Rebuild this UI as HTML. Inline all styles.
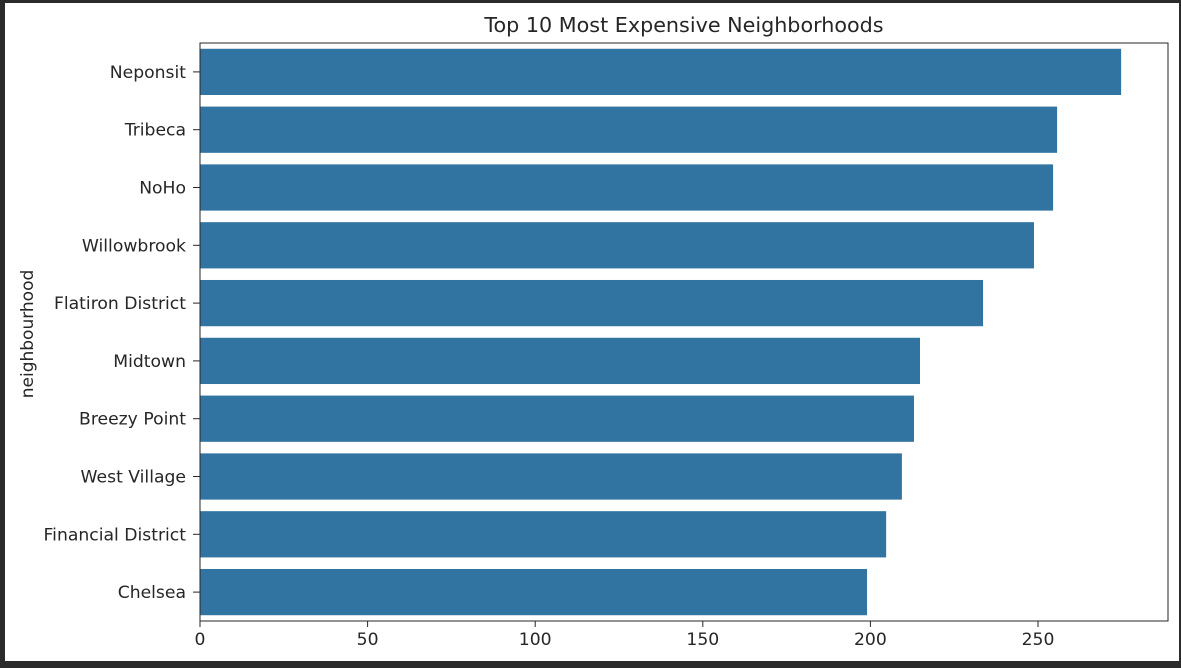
<!DOCTYPE html>
<html><head><meta charset="utf-8"><style>
html,body{margin:0;padding:0;background:#2b2b2b;}
svg{display:block;}
text{font-family:"DejaVu Sans","Liberation Sans",sans-serif;fill:#262626;}
</style></head><body>
<svg id="chart" width="1181" height="668" viewBox="0 0 1181 668" xmlns="http://www.w3.org/2000/svg">
<rect x="5" y="3" width="1174" height="658" fill="#ffffff"/>
<text x="684" y="32" font-size="20.7" text-anchor="middle">Top 10 Most Expensive Neighborhoods</text>
<text transform="translate(33,334) rotate(-90)" font-size="17" text-anchor="middle">neighbourhood</text>
<g id="bars"></g>
<g id="yticks"></g>
<g id="xticks"></g>
<rect x="200" y="43" width="968" height="578" fill="none" stroke="#262626" stroke-width="1"/>
</svg>
<script>
const categories = ["Neponsit","Tribeca","NoHo","Willowbrook","Flatiron District","Midtown","Breezy Point","West Village","Financial District","Chelsea"];
const prices = [274.8,255.7,254.5,248.8,233.6,214.8,213.0,209.4,204.7,199.0];
const xTicks = [0,50,100,150,200,250];
const NS="http://www.w3.org/2000/svg";
const x0=200, pxPer=3.352, yTop=43, yBottom=621;
const band=(yBottom-yTop)/categories.length;
const xs=v=>x0+v*pxPer;
const yc=i=>yTop+band*(i+0.5);
const gb=document.getElementById('bars'), gy=document.getElementById('yticks'), gx=document.getElementById('xticks');
function mk(tag,attrs){const e=document.createElementNS(NS,tag);for(const k in attrs)e.setAttribute(k,attrs[k]);return e;}
categories.forEach((c,i)=>{
  const h=band*0.8;
  const r=mk('rect',{x:xs(0),y:yc(i)-h/2,width:xs(prices[i])-xs(0),height:h,fill:'#3274a1'});
  
  
  gb.appendChild(r);
  const t=mk('line',{x1:193,x2:200,y1:yc(i),y2:yc(i),stroke:'#262626'});
  
  
  gy.appendChild(t);
  const l=mk('text',{x:186,y:yc(i)+6,'font-size':17.2,'text-anchor':'end'});
  l.textContent=c;
  
  
  gy.appendChild(l);
});
xTicks.forEach(v=>{
  const t=mk('line',{x1:xs(v),x2:xs(v),y1:yBottom,y2:yBottom+6,stroke:'#262626'});
  
  
  gx.appendChild(t);
  const l=mk('text',{x:xs(v),y:yBottom+24,'font-size':17.2,'text-anchor':'middle'});
  l.textContent=v;
  
  
  gx.appendChild(l);
});
</script>
</body></html>
